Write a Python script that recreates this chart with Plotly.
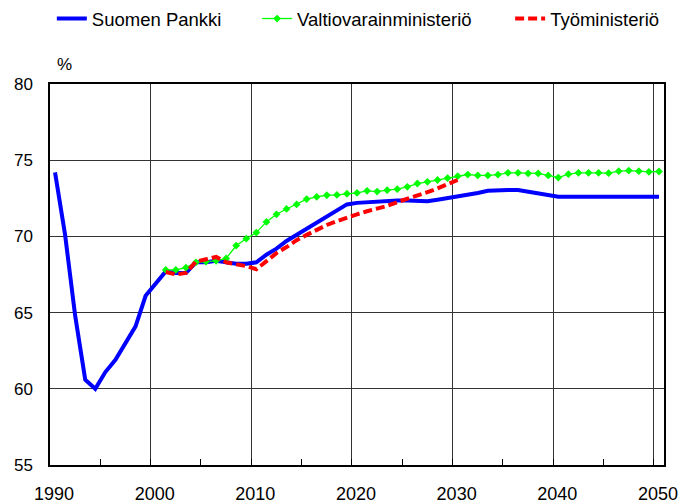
import numpy as np
import plotly.graph_objects as go

# Suomen Pankki, 1990-2050
sp_years = list(range(1990, 2051))
sp_values = [
    74.2, 70.1, 64.8, 60.6, 60.0, 61.1, 61.9, 63.0, 64.1, 66.1,
    66.9, 67.7, 67.6, 67.6, 68.3, 68.3, 68.4, 68.3, 68.2, 68.2,
    68.3, 68.8, 69.2, 69.7, 70.1, 70.5, 70.9, 71.3, 71.7, 72.1,
    72.2, 72.25, 72.3, 72.35, 72.35, 72.35, 72.3, 72.3, 72.4, 72.5,
    72.65, 72.75, 72.85, 73.0, 73.05, 73.05, 73.05, 72.95, 72.8, 72.7,
    72.6, 72.6, 72.6, 72.55, 72.55, 72.55, 72.55, 72.55, 72.6, 72.6,
    72.6,
]

# Valtiovarainministeriö, 2001-2050
vm_years = list(range(2001, 2051))
vm_values = [
    67.8, 67.8, 67.95, 68.3, 68.35, 68.4, 68.55, 69.4, 69.85,
    70.25, 70.95, 71.45, 71.8, 72.1, 72.45, 72.6, 72.7, 72.72, 72.8,
    72.85, 72.99, 72.94, 73.03, 73.1, 73.25, 73.47, 73.58, 73.7, 73.83,
    73.95, 74.06, 74.0, 74.0, 74.05, 74.17, 74.17, 74.13, 74.13, 74.0,
    73.86, 74.08, 74.17, 74.17, 74.17, 74.15, 74.28, 74.32, 74.28, 74.24,
    74.26,
]

# Työministeriö, 2001-2030
tm_years = list(range(2001, 2031))
tm_values = [
    67.66, 67.5, 67.6, 68.35, 68.5, 68.65, 68.3, 68.2, 68.05,
    67.85, 68.4, 68.9, 69.3, 69.75, 70.1, 70.45, 70.75, 71.0, 71.25,
    71.45, 71.65, 71.8, 72.0, 72.25, 72.45, 72.65, 72.9, 73.15, 73.4,
    73.7,
]

x_ticks = [1990, 2000, 2010, 2020, 2030, 2040, 2050]
y_ticks = [55, 60, 65, 70, 75, 80]

FONT = "Liberation Sans, Arial, sans-serif"


def centred(years):
    # category axis: each year sits in the middle of its interval
    return np.array(years) + 0.5


fig = go.Figure()
fig.add_trace(go.Scatter(
    x=centred(sp_years), y=sp_values, mode="lines", name="Suomen Pankki",
    line=dict(color="#0000ff", width=4), legend="legend",
))
fig.add_trace(go.Scatter(
    x=centred(vm_years), y=vm_values, mode="lines+markers", name="Valtiovarainministeriö",
    line=dict(color="#00ff00", width=1.3),
    marker=dict(symbol="diamond", size=6, color="#00ff00"), legend="legend2",
))
fig.add_trace(go.Scatter(
    x=centred(tm_years), y=tm_values, mode="lines", name="Työministeriö",
    line=dict(color="#ff0000", width=4, dash="9px,4px"), legend="legend3",
))

leg = dict(orientation="h", xref="container", yref="container", y=1.0, yanchor="top",
           font=dict(size=18.5, color="black", family=FONT), bgcolor="rgba(0,0,0,0)")

fig.update_layout(
    width=682, height=503,
    margin=dict(l=50, r=18, t=84, b=38),
    paper_bgcolor="white", plot_bgcolor="white",
    font=dict(family=FONT, size=17, color="black"),
    legend=dict(leg, x=0.076),
    legend2=dict(leg, x=0.377),
    legend3=dict(leg, x=0.748),
    showlegend=True,
    annotations=[dict(text="%", xref="paper", yref="paper", x=0.008, y=1.021,
                      xanchor="left", yanchor="bottom", showarrow=False,
                      font=dict(size=17, family=FONT))],
)
fig.update_xaxes(
    range=[1990, 2051], tickvals=x_ticks, ticks="inside", ticklen=6, tickcolor="black",
    showgrid=True, automargin=False,
    gridcolor="#333", gridwidth=1, showline=True, linecolor="black", linewidth=1.5,
    mirror=True, zeroline=False, ticklabelstandoff=12, ticklabelshift=4,
    tickfont=dict(size=18),
    minor=dict(tick0=1990, dtick=5, ticks="inside", ticklen=6, tickcolor="black",
               showgrid=False),
)
fig.update_yaxes(
    range=[55, 80], tickvals=y_ticks, ticks="", showgrid=True, automargin=False,
    gridcolor="#333", gridwidth=1, showline=True, linecolor="black", linewidth=1.5,
    mirror=True, zeroline=False, ticklabelstandoff=12, tickfont=dict(size=17),
)

# the page's default body margin would push the figure off the window
fig.write_html("out.html", config={"displayModeBar": False},
               post_script="document.body.style.margin = '0px';")
